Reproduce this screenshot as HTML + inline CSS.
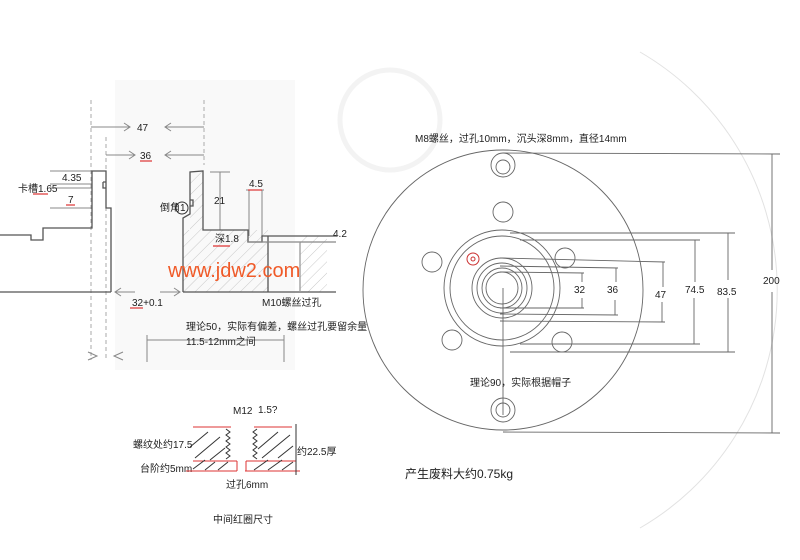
<!DOCTYPE html>
<html><head><meta charset="utf-8"><style>
body{margin:0;background:#fff}
svg{display:block}
text{font-family:"Liberation Sans","Noto Sans CJK SC",sans-serif;fill:#222}
</style></head><body>
<svg width="800" height="560" viewBox="0 0 800 560" xmlns="http://www.w3.org/2000/svg">
<defs>
<pattern id="h" width="8" height="8" patternUnits="userSpaceOnUse" patternTransform="rotate(45)"><line x1="0" y1="0" x2="0" y2="8" stroke="#bbb" stroke-width="0.8"/></pattern>
</defs>
<rect width="800" height="560" fill="#fff"/>
<rect x="115" y="80" width="180" height="290" fill="#f9f9f9"/>
<circle cx="390" cy="120" r="50" fill="none" stroke="#f3f3f3" stroke-width="5"/>
<!-- LEFT SECTION -->
<g stroke="#aaa" stroke-width="1" stroke-dasharray="4,3" fill="none">
<line x1="91" y1="100" x2="91" y2="360"/><line x1="106" y1="137" x2="106" y2="360"/><line x1="204" y1="100" x2="204" y2="165"/>
</g>
<g stroke="#888" stroke-width="1" fill="none">
<line x1="91" y1="127" x2="130" y2="127"/><path d="M124 123 L130 127 L124 131"/>
<line x1="165" y1="127" x2="204" y2="127"/><path d="M171 123 L165 127 L171 131"/>
<line x1="106" y1="155" x2="135" y2="155"/><path d="M129 151 L135 155 L129 159"/>
<line x1="165" y1="155" x2="204" y2="155"/><path d="M171 151 L165 155 L171 159"/>
<line x1="50" y1="171" x2="92" y2="171"/><line x1="50" y1="184" x2="92" y2="184"/><line x1="50" y1="188" x2="92" y2="188"/><line x1="50" y1="208" x2="92" y2="208"/>
<line x1="115" y1="292" x2="135" y2="292"/><path d="M121 288 L115 292 L121 296"/>
<line x1="160" y1="292" x2="180" y2="292"/><path d="M174 288 L180 292 L174 296"/>
<line x1="210" y1="172" x2="230" y2="172"/><line x1="220" y1="172" x2="220" y2="230"/>
<line x1="249" y1="190" x2="249" y2="236"/><line x1="262" y1="190" x2="262" y2="236"/><line x1="246" y1="190" x2="264" y2="190"/>
<line x1="147" y1="335" x2="147" y2="362"/><line x1="284" y1="335" x2="284" y2="362"/><line x1="147" y1="340" x2="284" y2="340"/>
<path d="M88 352 L97 356 L88 360"/><path d="M123 352 L114 356 L123 360"/>
</g>
<rect x="183" y="230" width="85" height="62" fill="url(#h)"/>
<rect x="300" y="236" width="27" height="56" fill="url(#h)"/>
<rect x="190" y="172" width="13" height="58" fill="url(#h)"/>
<g stroke="#555" stroke-width="1.3" fill="none">
<path d="M0 235 L31 235 L31 240 L43 240 L43 228 L92 228 L92 171 L106 171 L106 208 L111 208 L111 292"/>
<path d="M103 182 L106 182 M103 182 L103 188 L106 188"/>
<line x1="0" y1="292" x2="111" y2="292"/>
<path d="M183 292 L183 218 L190 214 L190 172 L203 171 L203 230 L248 230 L248 242 L262 242 L262 236 L336 236"/>
<path d="M190 200 L193 200 L193 206 L190 206"/>
<line x1="268" y1="236" x2="268" y2="292"/><line x1="183" y1="292" x2="336" y2="292"/>
<line x1="248" y1="242" x2="336" y2="242" stroke="#888"/>
<line x1="300" y1="242" x2="300" y2="292" stroke="#999"/>
</g>
<circle cx="182" cy="208" r="6" fill="none" stroke="#333"/>
<g font-size="10">
<text x="137" y="131">47</text>
<text x="140" y="159">36</text>
<text x="62" y="181">4.35</text>
<text x="18" y="192">卡槽1.65</text>
<text x="68" y="203">7</text>
<text x="160" y="211">倒角1</text>
<text x="214" y="204">21</text>
<text x="249" y="187">4.5</text>
<text x="215" y="242">深1.8</text>
<text x="333" y="237">4.2</text>
<text x="132" y="306">32+0.1</text>
<text x="262" y="306">M10螺丝过孔</text>
<text x="186" y="330">理论50，实际有偏差，螺丝过孔要留余量</text>
<text x="186" y="345">11.5-12mm之间</text>
</g>
<g stroke="#d33" stroke-width="1.2">
<line x1="140" y1="161" x2="152" y2="161"/><line x1="33" y1="194" x2="48" y2="194"/><line x1="66" y1="205" x2="75" y2="205"/>
<line x1="248" y1="190" x2="262" y2="190"/><line x1="213" y1="246" x2="230" y2="246"/><line x1="130" y1="308" x2="143" y2="308"/>
</g>
<text x="168" y="277" font-size="20" style="fill:#f05a28">www.jdw2.com</text>
<!-- BOTTOM LEFT -->
<g font-size="10">
<text x="233" y="414">M12</text><text x="258" y="413">1.5?</text>
<text x="133" y="448">螺纹处约17.5</text>
<text x="140" y="472">台阶约5mm</text>
<text x="297" y="455">约22.5厚</text>
<text x="226" y="488">过孔6mm</text>
<text x="213" y="523">中间红圈尺寸</text>
</g>
<g stroke="#d33" stroke-width="1" fill="none">
<line x1="193" y1="427" x2="231" y2="427"/><line x1="254" y1="427" x2="292" y2="427"/>
<line x1="193" y1="461" x2="237" y2="461"/><line x1="246" y1="461" x2="296" y2="461"/>
<line x1="186" y1="471" x2="237" y2="471"/><line x1="245" y1="471" x2="300" y2="471"/>
<line x1="237" y1="461" x2="237" y2="471"/><line x1="246" y1="461" x2="246" y2="471"/>
</g>
<g stroke="#333" stroke-width="1" fill="none">
<line x1="296" y1="424" x2="296" y2="475"/>
<path d="M226 429 l4 3 -4 3 4 3 -4 3 4 3 -4 3 4 3 -4 3 4 3 -4 3"/>
<path d="M257 429 l-4 3 4 3 -4 3 4 3 -4 3 4 3 -4 3 4 3 -4 3 4 3"/>
<line x1="190" y1="447" x2="208" y2="432"/><line x1="195" y1="458" x2="220" y2="437"/><line x1="210" y1="460" x2="225" y2="448"/>
<line x1="193" y1="469" x2="205" y2="460"/><line x1="205" y1="470" x2="215" y2="462"/><line x1="218" y1="470" x2="228" y2="462"/>
<line x1="258" y1="449" x2="278" y2="432"/><line x1="262" y1="458" x2="290" y2="435"/><line x1="278" y1="458" x2="293" y2="446"/>
<line x1="254" y1="470" x2="268" y2="460"/><line x1="268" y1="470" x2="282" y2="460"/><line x1="282" y1="470" x2="293" y2="462"/>
</g>
<!-- RIGHT -->
<path d="M640 52 A275 275 0 0 1 640 528" fill="none" stroke="#e2e2e2"/>
<g stroke="#666" stroke-width="0.9" fill="none">
<circle cx="503" cy="290" r="140"/>
<circle cx="502" cy="288" r="58"/><circle cx="502" cy="288" r="52"/>
<circle cx="502" cy="288" r="30"/><circle cx="502" cy="288" r="25"/><circle cx="502" cy="288" r="20"/><circle cx="502" cy="288" r="16"/>
<circle cx="503" cy="165" r="12"/><circle cx="503" cy="167" r="7"/>
<circle cx="503" cy="410" r="12"/><circle cx="503" cy="410" r="7"/>
<circle cx="503" cy="212" r="10"/><circle cx="432" cy="262" r="10"/><circle cx="565" cy="258" r="10"/>
<circle cx="452" cy="340" r="10"/><circle cx="562" cy="342" r="10"/>
<line x1="503" y1="288" x2="503" y2="415"/>
<line x1="503" y1="153" x2="780" y2="154"/><line x1="503" y1="432" x2="780" y2="433"/><line x1="772" y1="154" x2="772" y2="270"/><line x1="772" y1="292" x2="772" y2="433"/>
<line x1="510" y1="233" x2="735" y2="233"/><line x1="510" y1="352" x2="735" y2="352"/><line x1="728" y1="233" x2="728" y2="280"/><line x1="728" y1="298" x2="728" y2="352"/>
<line x1="520" y1="240" x2="700" y2="240"/><line x1="520" y1="344" x2="700" y2="344"/><line x1="695" y1="240" x2="695" y2="282"/><line x1="694" y1="298" x2="694" y2="344"/>
<line x1="500" y1="258" x2="665" y2="262"/><line x1="500" y1="321" x2="665" y2="322"/><line x1="663" y1="262" x2="663" y2="287"/><line x1="662" y1="302" x2="662" y2="322"/>
<line x1="500" y1="266" x2="618" y2="268"/><line x1="500" y1="314" x2="618" y2="315"/><line x1="616" y1="268" x2="616" y2="282"/><line x1="615" y1="300" x2="615" y2="315"/>
<line x1="500" y1="272" x2="584" y2="273"/><line x1="500" y1="308" x2="584" y2="308"/><line x1="582" y1="273" x2="582" y2="282"/><line x1="582" y1="298" x2="582" y2="308"/>
</g>
<circle cx="473" cy="259" r="6" fill="none" stroke="#c33"/><circle cx="473" cy="259" r="2" fill="none" stroke="#c33"/>
<g font-size="10">
<text x="415" y="142">M8螺丝，过孔10mm，沉头深8mm，直径14mm</text>
<text x="574" y="293">32</text><text x="607" y="293">36</text><text x="655" y="298">47</text>
<text x="685" y="293">74.5</text><text x="717" y="295">83.5</text><text x="763" y="284">200</text>
<text x="470" y="386">理论90，实际根据帽子</text>
</g>
<text x="405" y="478" font-size="12">产生废料大约0.75kg</text>
</svg>
</body></html>
